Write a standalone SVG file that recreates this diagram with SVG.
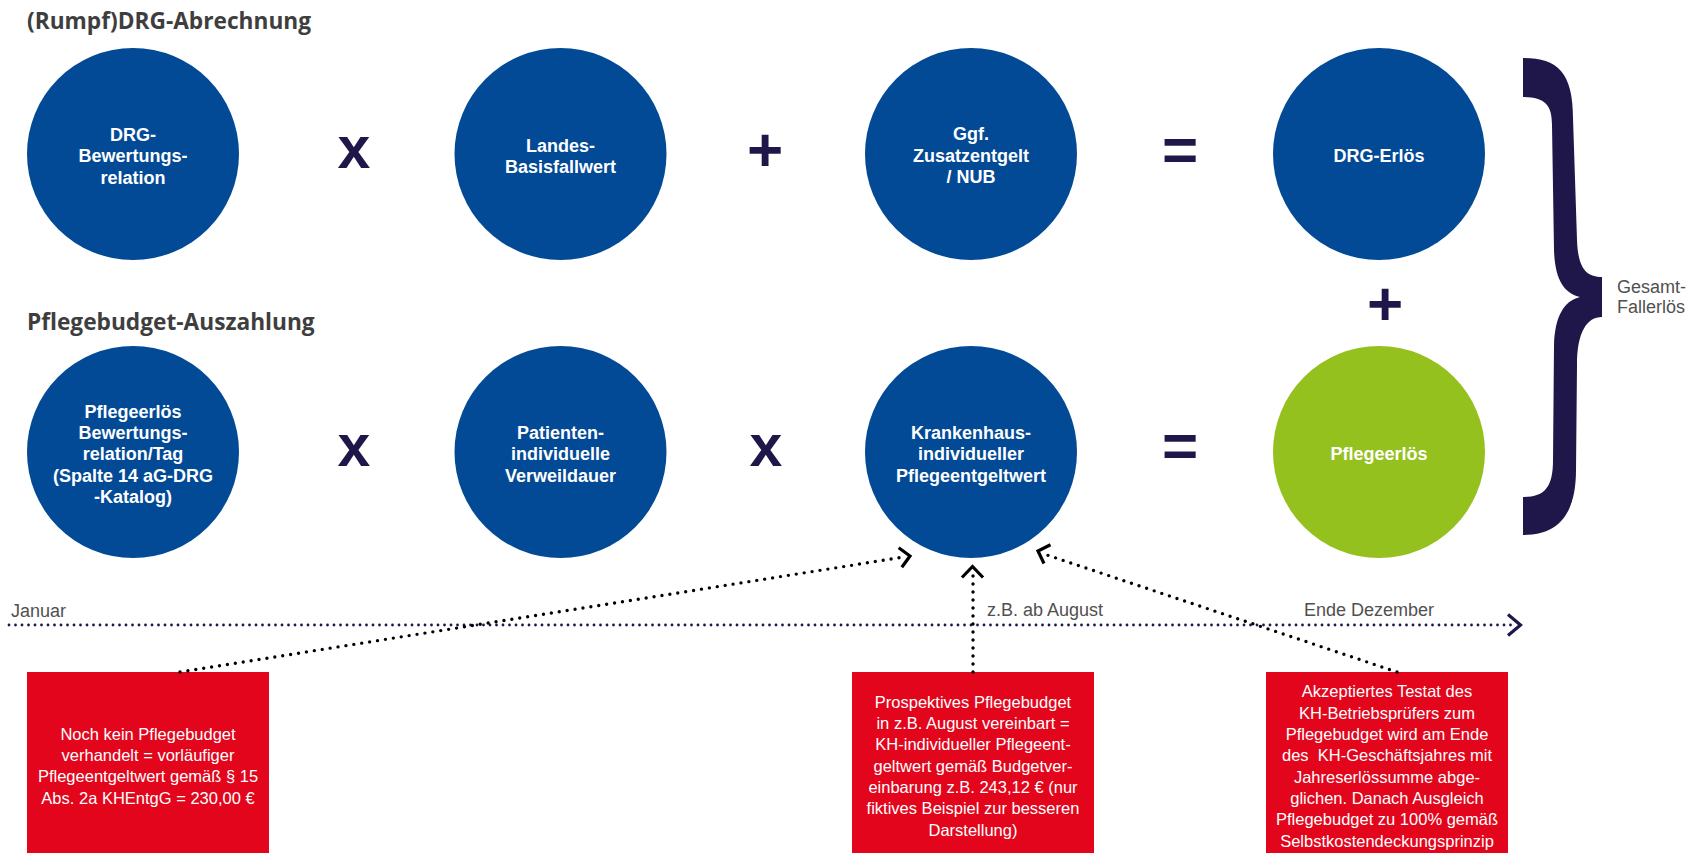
<svg xmlns="http://www.w3.org/2000/svg" width="1703" height="853" viewBox="0 0 1703 853">
  <style>
    .title { font-family: "Open Sans", "Liberation Sans", sans-serif; font-weight: 700; font-size: 22.7px; fill: #3e3e3e; }
    .node-blue { fill: #034a96; }
    .node-green { fill: #95c11f; }
    .ctext { font-family: "Liberation Sans", Arial, sans-serif; font-weight: 700; font-size: 18px; fill: #ffffff; text-anchor: middle; }
    .op { font-family: "Liberation Sans", Arial, sans-serif; font-weight: 700; fill: #1f1649; text-anchor: middle; }
    .box { fill: #e2051c; }
    .btext { font-family: "Liberation Sans", Arial, sans-serif; font-size: 16.5px; fill: #ffffff; text-anchor: middle; white-space: pre; }
    .label { font-family: "Liberation Sans", Arial, sans-serif; font-size: 18px; fill: #505050; }
    .timeline { fill: none; stroke: #1f1649; stroke-width: 2.8; stroke-linecap: round; stroke-dasharray: 0 6.5; }
    .dots { fill: none; stroke: #000000; stroke-width: 3.4; stroke-linecap: round; stroke-dasharray: 0 8; }
    .chev { fill: none; stroke: #000000; stroke-width: 3.2; stroke-linejoin: miter; }
    .chev-nav { fill: none; stroke: #1f1649; stroke-width: 3.2; }
  </style>

  <!-- section headings -->
  <text class="title" x="27" y="29">(Rumpf)DRG-Abrechnung</text>
  <text class="title" x="27" y="330">Pflegebudget-Auszahlung</text>

  <!-- DRG row -->
  <g id="drg-bewertungsrelation">
    <circle class="node-blue" cx="133" cy="154" r="106"/>
    <text class="ctext"><tspan x="133" y="140.5">DRG-</tspan><tspan x="133" y="162">Bewertungs-</tspan><tspan x="133" y="183.5">relation</tspan></text>
  </g>
  <g id="landesbasisfallwert">
    <circle class="node-blue" cx="560.5" cy="154" r="106"/>
    <text class="ctext"><tspan x="560.5" y="151.5">Landes-</tspan><tspan x="560.5" y="173">Basisfallwert</tspan></text>
  </g>
  <g id="zusatzentgelt">
    <circle class="node-blue" cx="971" cy="154" r="106"/>
    <text class="ctext"><tspan x="971" y="140">Ggf.</tspan><tspan x="971" y="161.5">Zusatzentgelt</tspan><tspan x="971" y="183">/ NUB</tspan></text>
  </g>
  <g id="drg-erloes">
    <circle class="node-blue" cx="1379" cy="154" r="106"/>
    <text class="ctext" x="1379" y="161.5">DRG-Erlös</text>
  </g>

  <!-- Pflegebudget row -->
  <g id="pflegeerloes-bewertungsrelation">
    <circle class="node-blue" cx="133" cy="452" r="106"/>
    <text class="ctext"><tspan x="133" y="418">Pflegeerlös</tspan><tspan x="133" y="439">Bewertungs-</tspan><tspan x="133" y="460">relation/Tag</tspan><tspan x="133" y="481.5">(Spalte 14 aG-DRG</tspan><tspan x="133" y="502.5">-Katalog)</tspan></text>
  </g>
  <g id="verweildauer">
    <circle class="node-blue" cx="560.5" cy="452" r="106"/>
    <text class="ctext"><tspan x="560.5" y="439">Patienten-</tspan><tspan x="560.5" y="460">individuelle</tspan><tspan x="560.5" y="481.5">Verweildauer</tspan></text>
  </g>
  <g id="pflegeentgeltwert">
    <circle class="node-blue" cx="971" cy="452" r="106"/>
    <text class="ctext"><tspan x="971" y="439">Krankenhaus-</tspan><tspan x="971" y="460">individueller</tspan><tspan x="971" y="481.5">Pflegeentgeltwert</tspan></text>
  </g>
  <g id="pflegeerloes">
    <circle class="node-green" cx="1379" cy="452" r="106"/>
    <text class="ctext" x="1379" y="460">Pflegeerlös</text>
  </g>

  <!-- operators -->
  <g id="operators">
    <text class="op" x="354" y="168" font-size="59">x</text>
    <text class="op" x="765" y="171" font-size="62">+</text>
    <text class="op" x="1180" y="171" font-size="62">=</text>
    <text class="op" x="354" y="466" font-size="59">x</text>
    <text class="op" x="766" y="466" font-size="59">x</text>
    <text class="op" x="1180" y="467" font-size="62">=</text>
    <text class="op" x="1385" y="325" font-size="62">+</text>
  </g>

  <!-- curly brace and total -->
  <g id="gesamt-fallerloes">
    <path fill="#1f1649" d="M1523,58 C1557,58 1573,72 1573,118 L1577,240 C1578,268 1586,277 1602,277 L1602,317 C1587,317 1577,332 1577,365 L1576,470 C1576,515 1558,535 1523,535 L1523,497 C1545,497 1553,487 1553,460 L1554,345 C1555,316 1564,301 1580,297 C1564,293 1555,280 1554,250 L1552,125 C1552,105 1545,97 1523,97 Z"/>
    <text class="label"><tspan x="1617" y="293">Gesamt-</tspan><tspan x="1617" y="313">Fallerlös</tspan></text>
  </g>

  <!-- timeline -->
  <g id="timeline">
    <line class="timeline" x1="9" y1="625" x2="1516" y2="625"/>
    <polyline class="chev-nav" points="1508,614.5 1520.5,625 1508,635.5"/>
    <text class="label" x="11" y="617">Januar</text>
    <text class="label" x="987" y="616">z.B. ab August</text>
    <text class="label" x="1304" y="616">Ende Dezember</text>
  </g>

  <!-- explanatory boxes -->
  <g id="box-vorlaeufig">
    <rect class="box" x="27" y="672" width="242" height="181"/>
    <text class="btext"><tspan x="148" y="739.5">Noch kein Pflegebudget</tspan><tspan x="148" y="761">verhandelt = vorläufiger</tspan><tspan x="148" y="782">Pflegeentgeltwert gemäß § 15</tspan><tspan x="148" y="803.5">Abs. 2a KHEntgG = 230,00 €</tspan></text>
  </g>
  <g id="box-prospektiv">
    <rect class="box" x="852" y="672" width="242" height="181"/>
    <text class="btext"><tspan x="973" y="707.5">Prospektives Pflegebudget</tspan><tspan x="973" y="729">in z.B. August vereinbart =</tspan><tspan x="973" y="750.3">KH-individueller Pflegeent-</tspan><tspan x="973" y="771.6">geltwert gemäß Budgetver-</tspan><tspan x="973" y="793">einbarung z.B. 243,12 € (nur</tspan><tspan x="973" y="814.3">fiktives Beispiel zur besseren</tspan><tspan x="973" y="835.6">Darstellung)</tspan></text>
  </g>
  <g id="box-testat">
    <rect class="box" x="1266" y="672" width="242" height="181"/>
    <text class="btext"><tspan x="1387" y="697.3">Akzeptiertes Testat des</tspan><tspan x="1387" y="718.6">KH-Betriebsprüfers zum</tspan><tspan x="1387" y="740">Pflegebudget wird am Ende</tspan><tspan x="1387" y="761.3">des  KH-Geschäftsjahres mit</tspan><tspan x="1387" y="782.6">Jahreserlössumme abge-</tspan><tspan x="1387" y="804">glichen. Danach Ausgleich</tspan><tspan x="1387" y="825.3">Pflegebudget zu 100% gemäß</tspan><tspan x="1387" y="846.6">Selbstkostendeckungsprinzip</tspan></text>
  </g>

  <!-- dotted connectors into the Pflegeentgeltwert node -->
  <g id="connectors">
    <line class="dots" x1="180" y1="672" x2="904" y2="557"/>
    <polyline class="chev" points="898.7,547.8 910,556 901.8,567.3"/>
    <line class="dots" x1="973" y1="672" x2="973" y2="570"/>
    <polyline class="chev" points="962,577.5 972.5,566.5 983,577.5"/>
    <line class="dots" x1="1397" y1="672" x2="1044" y2="554"/>
    <polyline class="chev" points="1050.5,544.7 1038,551 1044,563.5"/>
  </g>
</svg>
